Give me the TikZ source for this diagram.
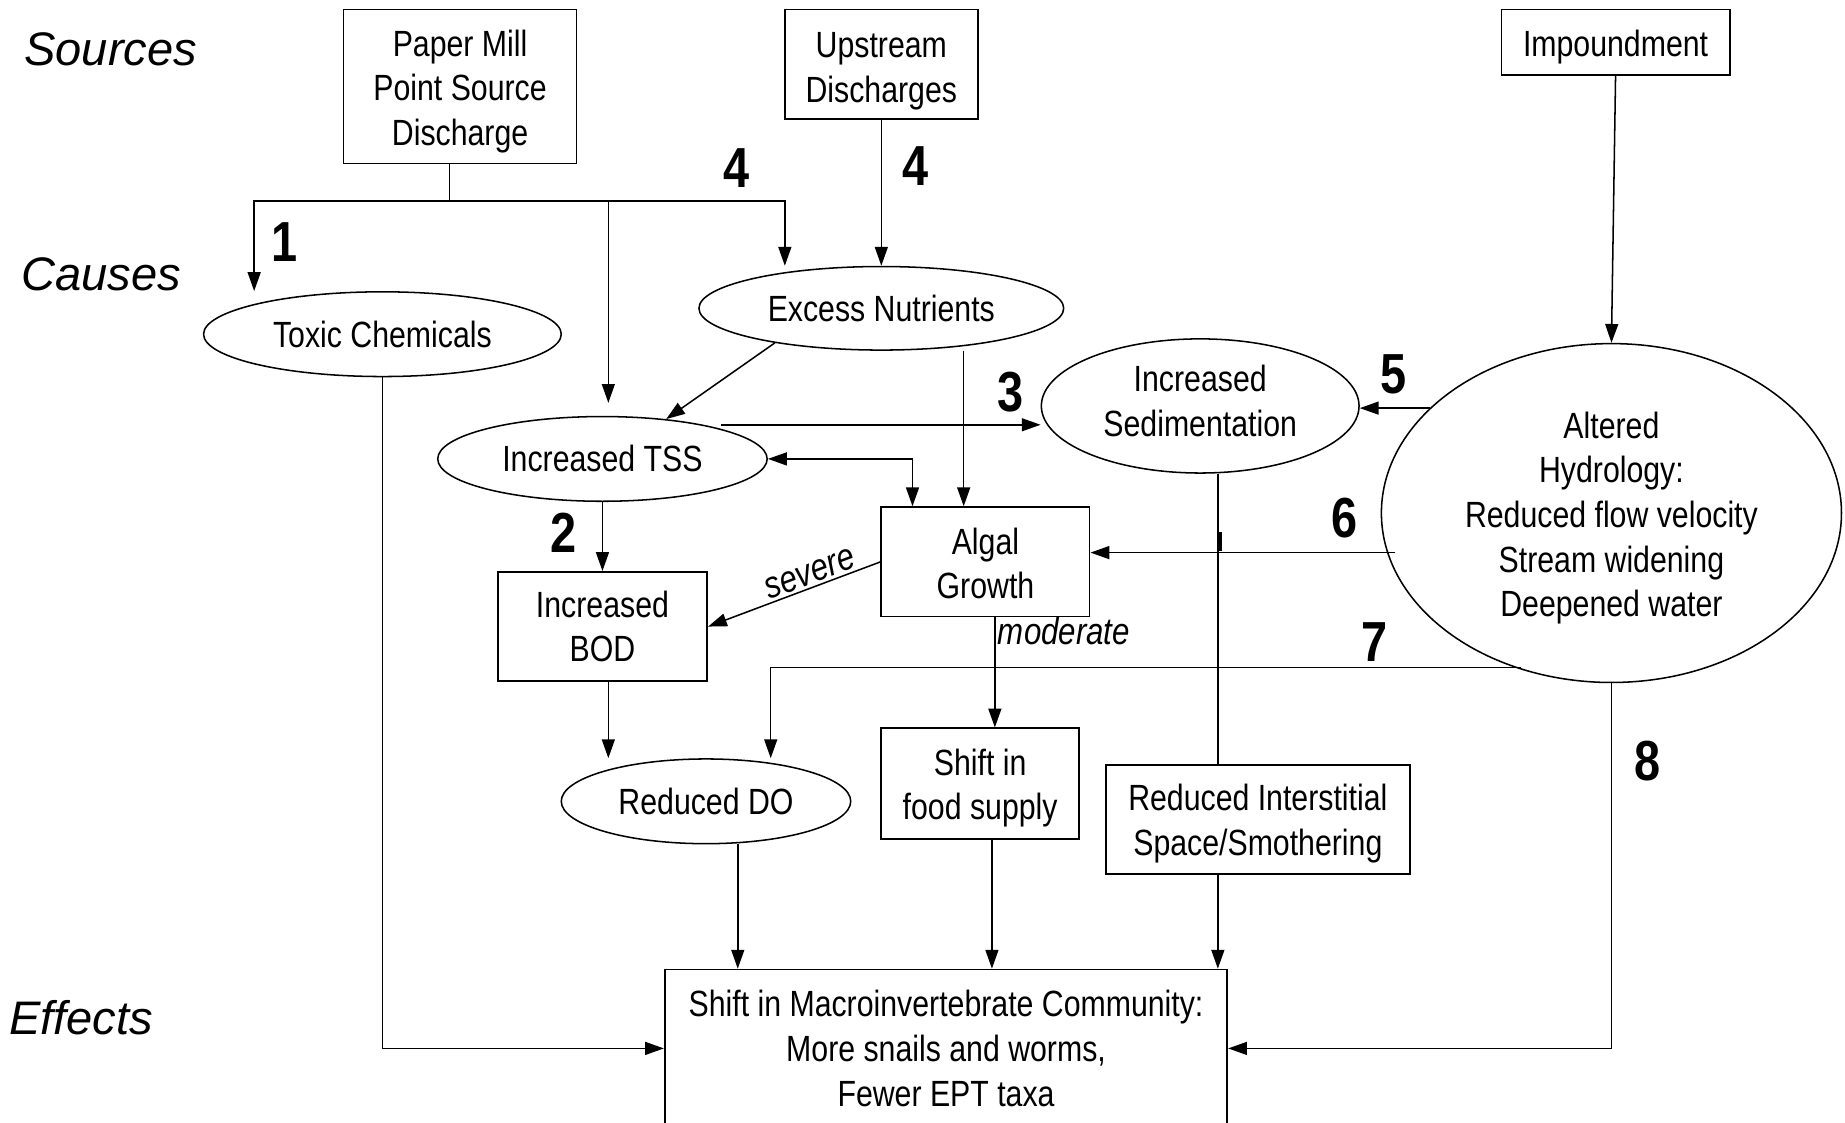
\documentclass[tikz,border=0pt]{standalone}
\usepackage{fontspec}
\setmainfont{Liberation Sans}[FakeStretch=0.83]
\newfontfamily\rowfont{Liberation Sans}
\usetikzlibrary{arrows.meta,shapes.geometric}
% struts that nudge a node's text down (tall first line) or up (deep last line)
\newcommand\txtlow[1]{\rule{0pt}{#1}}
\newcommand\txtup[1]{\rule[-#1]{0pt}{0pt}}

\begin{document}
\begin{tikzpicture}[x=1pt,y=-1pt,
  every node/.style={font=\fontsize{31}{38}\selectfont},
  box/.style={draw, line width=1.5pt, rectangle, align=center, inner sep=0pt},
  ell/.style={draw, line width=1.3pt, ellipse, align=center, inner sep=0pt},
  rowlbl/.style={font=\rowfont\itshape\fontsize{40}{48}\selectfont},
  num/.style={font=\bfseries\fontsize{48}{56}\selectfont},
  lbl/.style={font=\itshape\fontsize{32}{38}\selectfont, inner sep=2pt},
  line/.style={line width=1.3pt},
  arr/.style={line, -{Triangle[length=16pt,width=11pt]}},
  arrboth/.style={line, {Triangle[length=16pt,width=11pt]}-{Triangle[length=16pt,width=11pt]}}]

\useasboundingbox (0,0) rectangle (1568,954);
\fill[white] (0,0) rectangle (1568,954);
\clip (0,0) rectangle (1568,954);

% row titles
\node[rowlbl] (lsrc) at (94,42) {Sources};
\node[rowlbl] (lcau) at (86,233) {Causes};
\node[rowlbl] (leff) at (69,865) {Effects};

% sources
\node[box, minimum width=198pt, minimum height=131pt] (pm) at (391,73.5) {\txtlow{31pt}Paper Mill\\Point Source\\Discharge};
\node[box, minimum width=164pt, minimum height=93pt] (up) at (749,54.5) {\txtlow{33pt}Upstream\\Discharges};
\node[box, minimum width=194pt, minimum height=56pt] (imp) at (1373,36) {\txtlow{31pt}Impoundment};

% causes
\node[ell, minimum width=304pt, minimum height=72pt] (tox) at (325,284) {Toxic Chemicals};
\node[ell, minimum width=310pt, minimum height=71pt] (nut) at (749,262) {Excess Nutrients};
\node[ell, minimum width=280pt, minimum height=72pt] (tss) at (512,390) {Increased TSS};
\node[ell, minimum width=270pt, minimum height=114pt] (sed) at (1020,345) {Increased\\Sedimentation\txtup{9pt}};
\node[ell, minimum width=391pt, minimum height=288pt] (hyd) at (1369.5,436) {\txtlow{31pt}Altered\\Hydrology:\\Reduced flow velocity\\Stream widening\\Deepened water};
\node[box, minimum width=177pt, minimum height=93pt] (alg) at (837.5,477.5) {\txtlow{25pt}Algal\\Growth};
\node[box, minimum width=178pt, minimum height=93pt] (bod) at (512,532.5) {Increased\\BOD};
\node[ell, minimum width=246pt, minimum height=72pt] (do) at (600,681) {Reduced DO};
\node[box, minimum width=168pt, minimum height=94pt] (food) at (833,666) {\txtlow{30pt}Shift in\\food supply};
\node[box, minimum width=258pt, minimum height=93pt] (ris) at (1069,696.5) {\txtlow{29pt}Reduced Interstitial\\Space/Smothering};

% effects
\node[box, minimum width=478pt, minimum height=134pt] (mac) at (804,891) {Shift in Macroinvertebrate Community:\\More snails and worms,\\Fewer EPT taxa};

% pathway numbers
\node[num] (n1) at (242,206) {1};
\node[num] (n2) at (479,453) {2};
\node[num] (n3) at (859,333) {3};
\node[num] (n4a) at (626,143) {4};
\node[num] (n4b) at (778,141) {4};
\node[num] (n5) at (1184,318) {5};
\node[num] (n6) at (1143,440) {6};
\node[num] (n7) at (1168,546) {7};
\node[num] (n8) at (1400,647) {8};

% paper mill branches
\coordinate (pmj) at (382,171);
\draw[line] ([xshift=-9pt]pm.south) -- (pmj);
\draw[arr] (pmj) -| ([xshift=-109pt]tox.north);
\draw[arr, shorten >=11pt] (pmj) -| ([xshift=5pt]tss.north);
\draw[arr] (pmj) -| ([xshift=-82pt]nut.north);

\draw[arr] (up.south) -- (nut.north);
\draw[arr] (imp.south) -- (hyd.north);

% nutrient pathways
\draw[arr] (nut.198) -- (tss.32);
\draw[arr] ([xshift=70pt]nut.south) -- ([xshift=70pt]nut.south |- alg.north);

% TSS pathways
\coordinate (t3) at ([xshift=101pt,yshift=29pt]tss.center);
\draw[arr] (t3) -- (t3 -| sed.west);
\draw[arrboth] (tss.east) -| ([xshift=-62pt]alg.north);
\draw[arr] (tss.south) -- (bod.north);

% algal growth outcomes
\draw[arr] (alg.west) -- node[lbl, sloped, above, pos=0.38] (sev) {severe} (bod.east);
\draw[arr] ([xshift=8pt]alg.south) -- node[lbl, pos=0.12, right] (mod) {moderate} ([xshift=8pt]alg.south |- food.north);

% sedimentation to smothering
\draw[line] ([xshift=15pt]sed.south) -- ([xshift=15pt]sed.south |- ris.north);
\fill (1035.6,452) rectangle (1038.4,468);

% hydrology pathways
\draw[arr] (hyd.150) -- (hyd.150 -| sed.east);
\draw[arr] ([xshift=7pt]hyd.190) -- (hyd.190 -| alg.east);
\draw[arr] ([xshift=5pt]hyd.238) -| ([xshift=55pt]do.north);

% toward dissolved oxygen and effects
\draw[arr] ([xshift=5pt]bod.south) -- ([xshift=5pt]bod.south |- do.north);
\draw[arr] ([xshift=27pt]do.south) -- ([xshift=27pt]do.south |- mac.north);
\draw[arr] ([xshift=10pt]food.south) -- ([xshift=10pt]food.south |- mac.north);
\draw[arr] ([xshift=-34pt]ris.south) -- ([xshift=-34pt]ris.south |- mac.north);
\draw[arr] (tox.south) |- (mac.west);
\draw[arr] (hyd.south) |- (mac.east);

\end{tikzpicture}
\end{document}
